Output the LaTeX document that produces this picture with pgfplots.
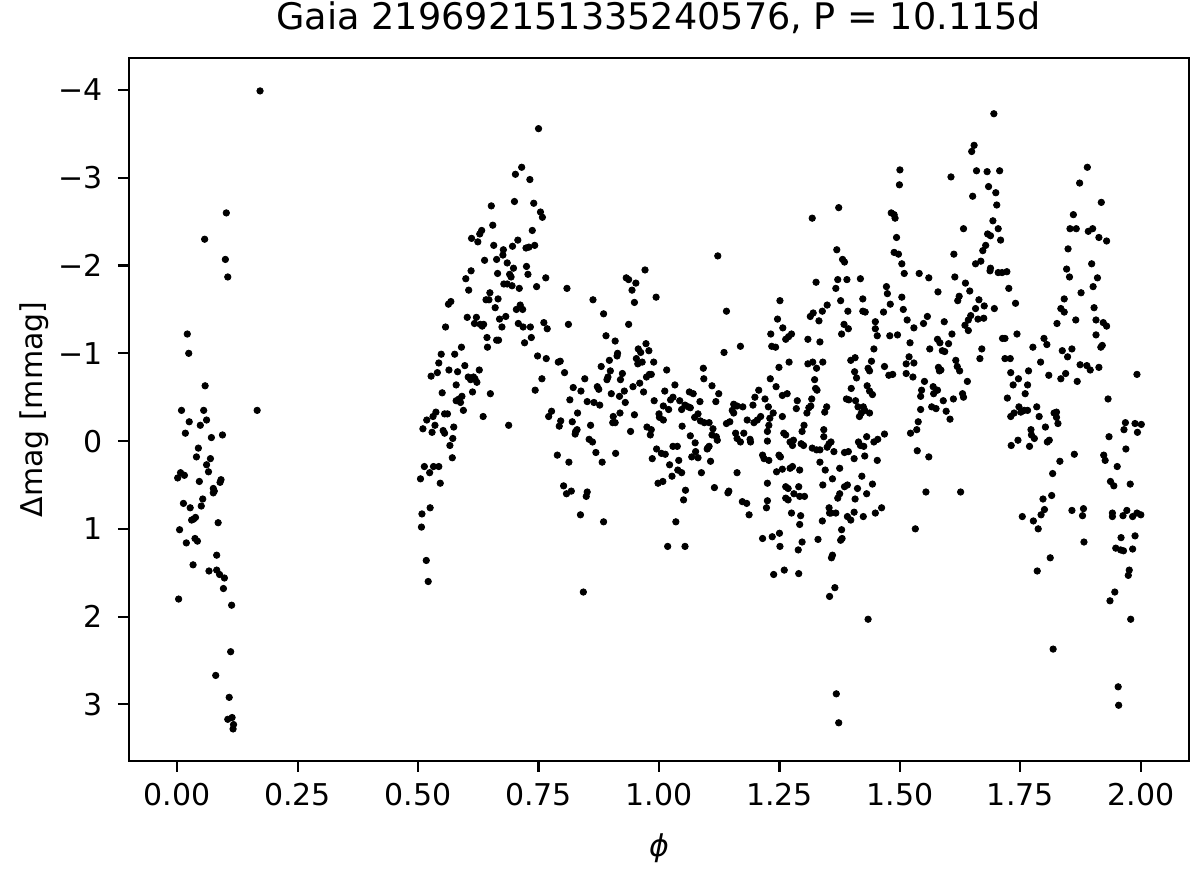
\documentclass[border=0pt]{standalone}
\usepackage{fontspec}
\setmainfont{DejaVu Sans}
\usepackage{pgfplots}
\pgfplotsset{compat=1.18}
\begin{document}
\begin{tikzpicture}
\path[use as bounding box] (-64.5pt,-53.6pt) rectangle (535.5pt,380.4pt);
\begin{axis}[
  at={(0,0)}, anchor=south west,
  scale only axis, width=530pt, height=351.4pt,
  xmin=-0.1, xmax=2.1, ymin=-4.365, ymax=3.643,
  y dir=reverse,
  axis line style={line width=1.1pt},
  tick align=outside, tick pos=left,
  major tick length=5.5pt,
  every tick/.style={line width=1.1pt, black},
  xtick={0,0.25,0.5,0.75,1,1.25,1.5,1.75,2},
  xticklabels={0.00,0.25,0.50,0.75,1.00,1.25,1.50,1.75,2.00},
  ytick={-4,-3,-2,-1,0,1,2,3},
  yticklabels={−4,−3,−2,−1,0,1,2,3},
  tick label style={font=\fontsize{15}{18}\selectfont},
  xticklabel style={yshift=-2.5pt, text height=11pt, text depth=0pt},
  yticklabel style={xshift=-4pt},
  title={Gaia 219692151335240576, P = 10.115d},
  title style={font=\fontsize{18.3}{22}\selectfont, at={(axis description cs:0.5,1.040)}, anchor=base, yshift=-6pt},
  xlabel={\itshape ϕ},
  xlabel style={font=\fontsize{15}{18}\selectfont, at={(axis description cs:0.5,-0.124)}, anchor=center},
  ylabel={Δmag [mmag]},
  ylabel style={font=\fontsize{15}{18}\selectfont, at={(axis description cs:-0.0896,0.5)}, anchor=center, rotate=0},
]
\addplot[only marks, mark=*, mark size=1.6pt, black] coordinates {
(0.172,-3.99) (0.102,-2.60) (0.057,-2.30) (0.100,-2.07) (0.105,-1.87) (0.021,-1.22) (0.024,-1.00) (0.058,-0.63)
(0.009,-0.35) (0.055,-0.35) (0.166,-0.35) (0.025,-0.22) (0.061,-0.24) (0.048,-0.18) (0.017,-0.09) (0.071,-0.04)
(0.094,-0.07) (0.044,0.08) (0.040,0.18) (0.069,0.20) (0.061,0.27) (0.065,0.35) (0.001,0.42) (0.007,0.36)
(0.015,0.39) (0.046,0.46) (0.091,0.44) (0.089,0.47) (0.075,0.54) (0.075,0.59) (0.077,0.57) (0.053,0.66)
(0.013,0.71) (0.027,0.76) (0.050,0.74) (0.038,0.87) (0.030,0.90) (0.034,0.89) (0.085,0.93) (0.005,1.01)
(0.019,1.16) (0.037,1.11) (0.042,1.14) (0.082,1.30) (0.033,1.41) (0.066,1.48) (0.082,1.47) (0.088,1.52)
(0.098,1.56) (0.096,1.68) (0.003,1.80) (0.113,1.87) (0.111,2.40) (0.080,2.67) (0.108,2.92) (0.105,3.17)
(0.114,3.15) (0.117,3.23) (0.116,3.28)
(0.652,-2.68) (0.655,-2.46) (0.632,-2.40) (0.628,-2.36) (0.611,-2.31) (0.624,-2.27) (0.657,-2.23) (0.638,-2.06)
(0.663,-2.07) (0.610,-1.94) (0.599,-1.85) (0.665,-1.91) (0.605,-1.72) (0.649,-1.69) (0.641,-1.61) (0.647,-1.61)
(0.666,-1.62) (0.568,-1.59) (0.563,-1.56) (0.660,-1.52) (0.602,-1.41) (0.621,-1.41) (0.617,-1.34) (0.629,-1.33)
(0.636,-1.33) (0.633,-1.31) (0.557,-1.30) (0.669,-1.39) (0.643,-1.18) (0.663,-1.15) (0.667,-1.15) (0.644,-1.07)
(0.590,-1.07) (0.576,-0.99) (0.548,-0.99) (0.543,-0.89) (0.597,-0.86) (0.627,-0.81) (0.564,-0.81) (0.582,-0.79)
(0.540,-0.78) (0.527,-0.74) (0.604,-0.73) (0.615,-0.73) (0.618,-0.71) (0.609,-0.70) (0.622,-0.67) (0.579,-0.64)
(0.550,-0.55) (0.613,-0.56) (0.650,-0.54) (0.591,-0.51) (0.585,-0.48) (0.579,-0.46) (0.588,-0.44) (0.594,-0.35)
(0.537,-0.33) (0.531,-0.28) (0.555,-0.31) (0.561,-0.31) (0.635,-0.28) (0.518,-0.24) (0.535,-0.18) (0.510,-0.14)
(0.529,-0.10) (0.574,-0.16) (0.552,-0.12) (0.555,-0.09) (0.572,-0.03) (0.566,0.05) (0.571,0.19) (0.513,0.29)
(0.532,0.29) (0.543,0.29) (0.524,0.36) (0.505,0.43) (0.546,0.48) (0.525,0.76) (0.508,0.83) (0.507,0.98)
(0.517,1.36) (0.521,1.60)
(0.750,-3.56) (0.715,-3.12) (0.702,-3.04) (0.732,-2.98) (0.700,-2.73) (0.740,-2.71) (0.754,-2.61) (0.758,-2.55)
(0.737,-2.40) (0.707,-2.29) (0.696,-2.22) (0.724,-2.20) (0.730,-2.21) (0.742,-2.23) (0.677,-2.18) (0.676,-2.12)
(0.685,-2.03) (0.725,-1.99) (0.698,-1.97) (0.690,-1.90) (0.693,-1.87) (0.728,-1.90) (0.765,-1.86) (0.746,-1.76)
(0.678,-1.79) (0.685,-1.79) (0.695,-1.77) (0.710,-1.74) (0.712,-1.55) (0.717,-1.50) (0.704,-1.50) (0.682,-1.42)
(0.708,-1.34) (0.718,-1.30) (0.733,-1.30) (0.761,-1.35) (0.768,-1.28) (0.674,-1.30) (0.721,-1.12) (0.735,-1.18)
(0.809,-1.74) (0.812,-1.33) (0.748,-0.97) (0.766,-0.94) (0.791,-0.90) (0.795,-0.91) (0.804,-0.78) (0.757,-0.71)
(0.743,-0.58) (0.688,-0.18) (0.863,-1.61) (0.885,-1.45) (0.890,-1.20) (0.909,-1.14) (0.880,-0.85) (0.897,-0.92)
(0.913,-0.97) (0.914,-1.00) (0.937,-1.33) (0.932,-1.86) (0.937,-1.84) (0.952,-1.80) (0.944,-1.72) (0.949,-1.58)
(0.971,-1.95) (0.994,-1.64) (1.122,-2.11) (0.973,-1.11) (0.957,-1.05) (0.962,-1.01) (0.979,-1.03) (0.953,-0.94)
(0.965,-0.90) (0.956,-0.88) (0.989,-0.90) (0.980,-0.76) (0.984,-0.76) (0.974,-0.73) (0.960,-0.66) (0.946,-0.62)
(0.968,-0.56) (1.016,-0.81) (1.033,-0.64) (1.012,-0.57) (1.029,-0.50) (1.024,-0.47) (1.043,-0.46) (1.063,-0.56)
(1.071,-0.54) (1.092,-0.83) (1.093,-0.71) (1.110,-0.63) (1.124,-0.54) (1.118,-0.45) (1.085,-0.45) (1.061,-0.39)
(1.047,-0.36) (1.054,-0.41) (1.065,-0.38) (0.838,-0.57) (0.822,-0.61) (0.846,-0.71) (0.815,-0.47) (0.851,-0.45)
(0.865,-0.44) (0.877,-0.41) (0.872,-0.62) (0.875,-0.59) (0.901,-0.54) (0.918,-0.51) (0.928,-0.57) (0.924,-0.77)
(0.920,-0.70) (0.899,-0.80) (0.894,-0.73) (0.892,-0.70) (0.777,-0.34) (0.771,-0.28) (0.796,-0.23) (0.793,-0.17)
(0.820,-0.22) (0.831,-0.32) (0.827,-0.11) (0.830,-0.13) (0.858,-0.18) (0.855,-0.02) (0.862,0.01) (0.869,0.13)
(0.789,0.16) (0.905,-0.28) (0.904,-0.21) (0.909,-0.21) (0.919,-0.32) (0.949,-0.30) (0.941,-0.11) (0.975,-0.16)
(0.984,-0.13) (0.982,-0.07) (0.995,0.09) (1.005,0.14) (1.013,0.15) (1.029,0.06) (1.038,0.06) (1.048,-0.17)
(1.065,-0.06) (1.075,0.02) (1.068,0.18) (1.076,0.12) (1.081,-0.31) (1.074,-0.27) (1.086,-0.23) (1.094,-0.21)
(1.104,-0.21) (1.112,-0.14) (1.110,-0.07) (1.119,-0.05) (1.104,0.06) (1.100,0.09)
(0.813,0.24) (0.802,0.51) (0.808,0.60) (0.818,0.57) (0.851,0.58) (0.849,0.63) (0.837,0.84) (0.885,0.92)
(0.843,1.72) (0.882,0.24) (0.910,0.14) (0.826,-0.08) (0.986,0.20) (1.022,0.27) (1.041,0.22) (1.039,0.33)
(1.047,0.36) (1.027,0.40) (1.008,0.46) (0.998,0.48) (1.055,0.56) (1.051,0.67) (1.035,0.92) (1.018,1.20)
(1.054,1.20) (1.081,0.19) (1.088,0.36) (1.107,0.23) (1.101,0.08) (1.115,0.53) (1.121,-0.01) (0.930,-0.44)
(0.990,-0.46) (1.009,-0.40) (1.020,-0.36) (1.000,-0.31) (1.001,-0.27) (1.009,-0.24)
(1.500,-3.09) (1.499,-2.92) (1.373,-2.66) (1.318,-2.54) (1.482,-2.60) (1.488,-2.58) (1.490,-2.54) (1.493,-2.32)
(1.369,-2.18) (1.381,-2.07) (1.385,-2.04) (1.488,-2.15) (1.497,-2.13) (1.504,-2.02) (1.509,-1.91) (1.540,-1.91)
(1.560,-1.86) (1.579,-1.70) (1.140,-1.48) (1.326,-1.81) (1.371,-1.84) (1.390,-1.84) (1.418,-1.85) (1.367,-1.74)
(1.472,-1.76) (1.474,-1.68) (1.480,-1.56) (1.466,-1.47) (1.504,-1.64) (1.507,-1.50) (1.515,-1.38) (1.423,-1.62)
(1.423,-1.48) (1.428,-1.47) (1.377,-1.60) (1.392,-1.48) (1.251,-1.60) (1.169,-1.08) (1.135,-1.01) (1.246,-1.39)
(1.257,-1.29) (1.232,-1.22) (1.234,-1.08) (1.242,-1.07) (1.263,-1.16) (1.269,-1.19) (1.275,-1.22) (1.314,-1.42)
(1.320,-1.46) (1.332,-1.37) (1.339,-1.48) (1.349,-1.55) (1.309,-1.16) (1.334,-1.13) (1.384,-1.33) (1.393,-1.28)
(1.379,-1.22) (1.449,-1.36) (1.449,-1.28) (1.453,-1.20) (1.479,-1.20) (1.495,-1.21) (1.446,-1.05) (1.521,-1.12)
(1.549,-1.34) (1.557,-1.42) (1.529,-1.29) (1.562,-1.05) (1.578,-1.16) (1.583,-1.12) (1.249,-0.84) (1.270,-0.90)
(1.309,-0.88) (1.319,-0.90) (1.340,-0.90) (1.327,-0.83) (1.323,-0.70) (1.398,-0.92) (1.407,-0.95) (1.406,-0.79)
(1.410,-0.72) (1.434,-0.83) (1.441,-0.91) (1.437,-0.80) (1.468,-0.85) (1.477,-0.75) (1.485,-0.76) (1.513,-0.88)
(1.519,-0.96) (1.529,-0.89) (1.513,-0.77) (1.527,-0.73) (1.551,-0.68) (1.580,-0.84) (1.582,-0.80) (1.231,-0.71)
(1.155,-0.42) (1.162,-0.40) (1.174,-0.39) (1.152,-0.35) (1.155,-0.32) (1.207,-0.58) (1.199,-0.50) (1.195,-0.41)
(1.243,-0.62) (1.256,-0.52) (1.266,-0.54) (1.287,-0.46) (1.285,-0.37) (1.307,-0.32) (1.311,-0.38) (1.315,-0.40)
(1.317,-0.48) (1.325,-0.60) (1.328,-0.58) (1.348,-0.39) (1.344,-0.33) (1.394,-0.47) (1.389,-0.48) (1.408,-0.46)
(1.399,-0.60) (1.432,-0.63) (1.437,-0.57) (1.443,-0.53) (1.413,-0.39) (1.424,-0.39) (1.427,-0.35) (1.420,-0.32)
(1.416,-0.28) (1.437,-0.32) (1.237,-0.32) (1.545,-0.58) (1.543,-0.51) (1.569,-0.62) (1.578,-0.58) (1.570,-0.54)
(1.566,-0.39) (1.575,-0.37) (1.543,-0.36) (1.140,-0.20) (1.147,-0.22) (1.159,-0.09) (1.162,-0.03) (1.169,0.01)
(1.176,-0.09) (1.189,-0.02) (1.190,0.01) (1.183,-0.24) (1.197,-0.21) (1.204,-0.24) (1.211,-0.28) (1.230,-0.26)
(1.228,-0.18) (1.225,-0.11) (1.225,0.00) (1.256,-0.28) (1.259,-0.09) (1.263,-0.07) (1.272,0.01) (1.279,-0.01)
(1.277,0.05) (1.295,0.03) (1.300,0.05) (1.301,-0.18) (1.297,-0.11) (1.342,-0.13) (1.342,-0.05) (1.353,0.03)
(1.357,0.01) (1.318,0.08) (1.327,0.10) (1.334,0.10) (1.334,0.24) (1.349,0.07) (1.363,0.12) (1.385,0.13)
(1.393,0.12) (1.375,0.31) (1.345,0.33) (1.360,0.43) (1.414,0.01) (1.418,0.05) (1.425,0.06) (1.431,-0.05)
(1.446,0.01) (1.454,-0.02) (1.468,-0.08) (1.453,0.22) (1.427,0.17) (1.405,0.20) (1.215,0.16) (1.218,0.20)
(1.228,0.22) (1.249,0.16) (1.252,0.18) (1.277,0.29) (1.272,0.31) (1.292,0.33) (1.256,0.32) (1.244,0.35)
(1.162,0.36) (1.145,0.57) (1.143,0.59) (1.173,0.69) (1.182,0.71) (1.187,0.84) (1.225,0.48) (1.225,0.68)
(1.223,0.76) (1.263,0.52) (1.268,0.54) (1.290,0.52) (1.280,0.60) (1.263,0.65) (1.268,0.67) (1.292,0.63)
(1.302,0.63) (1.275,0.82) (1.294,0.85) (1.292,0.95) (1.340,0.50) (1.339,0.91) (1.330,1.12) (1.353,0.76)
(1.357,0.82) (1.367,0.82) (1.354,0.82) (1.371,0.65) (1.375,0.60) (1.385,0.52) (1.391,0.50) (1.391,0.86)
(1.398,0.90) (1.405,0.81) (1.407,0.66) (1.412,0.54) (1.424,0.86) (1.431,0.60) (1.443,0.49) (1.449,0.82)
(1.462,0.76) (1.421,0.40) (1.379,1.01) (1.380,1.11) (1.377,1.13) (1.360,1.30) (1.358,1.33) (1.365,1.67)
(1.354,1.77) (1.434,2.03) (1.368,2.88) (1.373,3.21) (1.215,1.11) (1.235,1.09) (1.250,1.05) (1.251,1.20)
(1.238,1.52) (1.260,1.47) (1.290,1.51) (1.289,1.24) (1.297,1.15) (1.522,-0.09) (1.535,-0.13) (1.536,0.11)
(1.560,0.18) (1.554,0.58) (1.532,1.00) (1.538,-0.22) (1.227,-0.39) (1.220,-0.48)
(1.695,-3.73) (1.654,-3.37) (1.649,-3.30) (1.659,-3.08) (1.681,-3.07) (1.707,-3.08) (1.606,-3.01) (1.684,-2.90)
(1.699,-2.83) (1.701,-2.69) (1.651,-2.79) (1.693,-2.51) (1.704,-2.42) (1.709,-2.29) (1.682,-2.36) (1.688,-2.34)
(1.632,-2.42) (1.678,-2.23) (1.672,-2.17) (1.612,-2.13) (1.657,-2.02) (1.668,-2.05) (1.688,-1.97) (1.687,-1.94)
(1.704,-1.92) (1.712,-1.92) (1.722,-1.93) (1.726,-1.74) (1.740,-1.57) (1.614,-1.87) (1.636,-1.80) (1.645,-1.71)
(1.623,-1.65) (1.620,-1.60) (1.664,-1.61) (1.657,-1.51) (1.675,-1.54) (1.696,-1.51) (1.647,-1.43) (1.642,-1.38)
(1.635,-1.32) (1.642,-1.26) (1.662,-1.39) (1.674,-1.40) (1.592,-1.36) (1.608,-1.22) (1.713,-1.17) (1.718,-1.17)
(1.743,-1.22) (1.670,-1.05) (1.666,-0.94) (1.601,-1.11) (1.593,-1.02) (1.588,-1.03) (1.585,-0.81) (1.616,-0.92)
(1.619,-0.85) (1.624,-0.80) (1.640,-0.68) (1.718,-0.94) (1.729,-0.94) (1.730,-0.78) (1.746,-0.71) (1.776,-1.07)
(1.792,-0.90) (1.767,-0.80) (1.809,-0.75) (1.799,-1.17) (1.805,-1.10)
(1.889,-3.12) (1.873,-2.94) (1.918,-2.72) (1.860,-2.58) (1.853,-2.42) (1.866,-2.42) (1.891,-2.39) (1.900,-2.42)
(1.913,-2.32) (1.929,-2.28) (1.849,-2.19) (1.898,-2.02) (1.846,-1.96) (1.852,-1.87) (1.910,-1.86) (1.901,-1.76)
(1.876,-1.69) (1.841,-1.62) (1.834,-1.51) (1.841,-1.47) (1.826,-1.34) (1.865,-1.38) (1.903,-1.52) (1.907,-1.38)
(1.922,-1.35) (1.929,-1.31) (1.907,-1.21) (1.920,-1.09) (1.917,-1.07) (1.837,-1.03) (1.857,-1.05) (1.848,-0.96)
(1.874,-0.87) (1.888,-0.86) (1.895,-0.81) (1.913,-0.84) (1.844,-0.77) (1.834,-0.71) (1.868,-0.68) (1.992,-0.76)
(1.590,-0.46) (1.596,-0.34) (1.604,-0.25) (1.611,-0.48) (1.630,-0.54) (1.632,-0.50) (1.626,0.58)
(1.723,-0.49) (1.735,-0.64) (1.730,-0.28) (1.737,-0.32) (1.747,-0.39) (1.751,-0.33) (1.758,-0.35) (1.765,-0.35)
(1.760,-0.54) (1.765,-0.64) (1.731,0.05) (1.745,-0.01) (1.772,-0.13) (1.773,-0.07) (1.779,-0.03) (1.769,0.06)
(1.784,-0.39) (1.789,-0.28) (1.802,-0.16) (1.806,0.01) (1.810,-0.01) (1.820,-0.32) (1.825,-0.27) (1.828,-0.20)
(1.825,-0.33) (1.832,0.23) (1.817,0.37) (1.815,0.62) (1.797,0.66) (1.800,0.78) (1.793,0.84) (1.777,0.91)
(1.787,1.00) (1.754,0.86) (1.812,1.33) (1.785,1.48) (1.818,2.37) (1.862,0.15) (1.857,0.79) (1.881,0.77)
(1.879,0.85) (1.882,1.15)
(1.932,-0.48) (1.934,-0.05) (1.923,0.16) (1.926,0.22) (1.951,0.29) (1.937,0.46) (1.944,0.51) (1.969,0.09)
(1.978,0.49) (1.968,-0.21) (1.965,-0.13) (1.988,-0.20) (2.001,-0.19) (1.993,-0.10) (1.941,0.82) (1.941,0.86)
(1.963,0.85) (1.971,0.79) (1.983,0.86) (1.992,0.82) (2.000,0.84) (1.959,1.10) (1.988,1.08) (1.948,1.22)
(1.958,1.24) (1.964,1.25) (1.983,1.23) (1.976,1.47) (1.974,1.53) (1.946,1.72) (1.936,1.82) (1.979,2.03)
(1.953,2.80) (1.954,3.01)
};
\end{axis}
\end{tikzpicture}
\end{document}
